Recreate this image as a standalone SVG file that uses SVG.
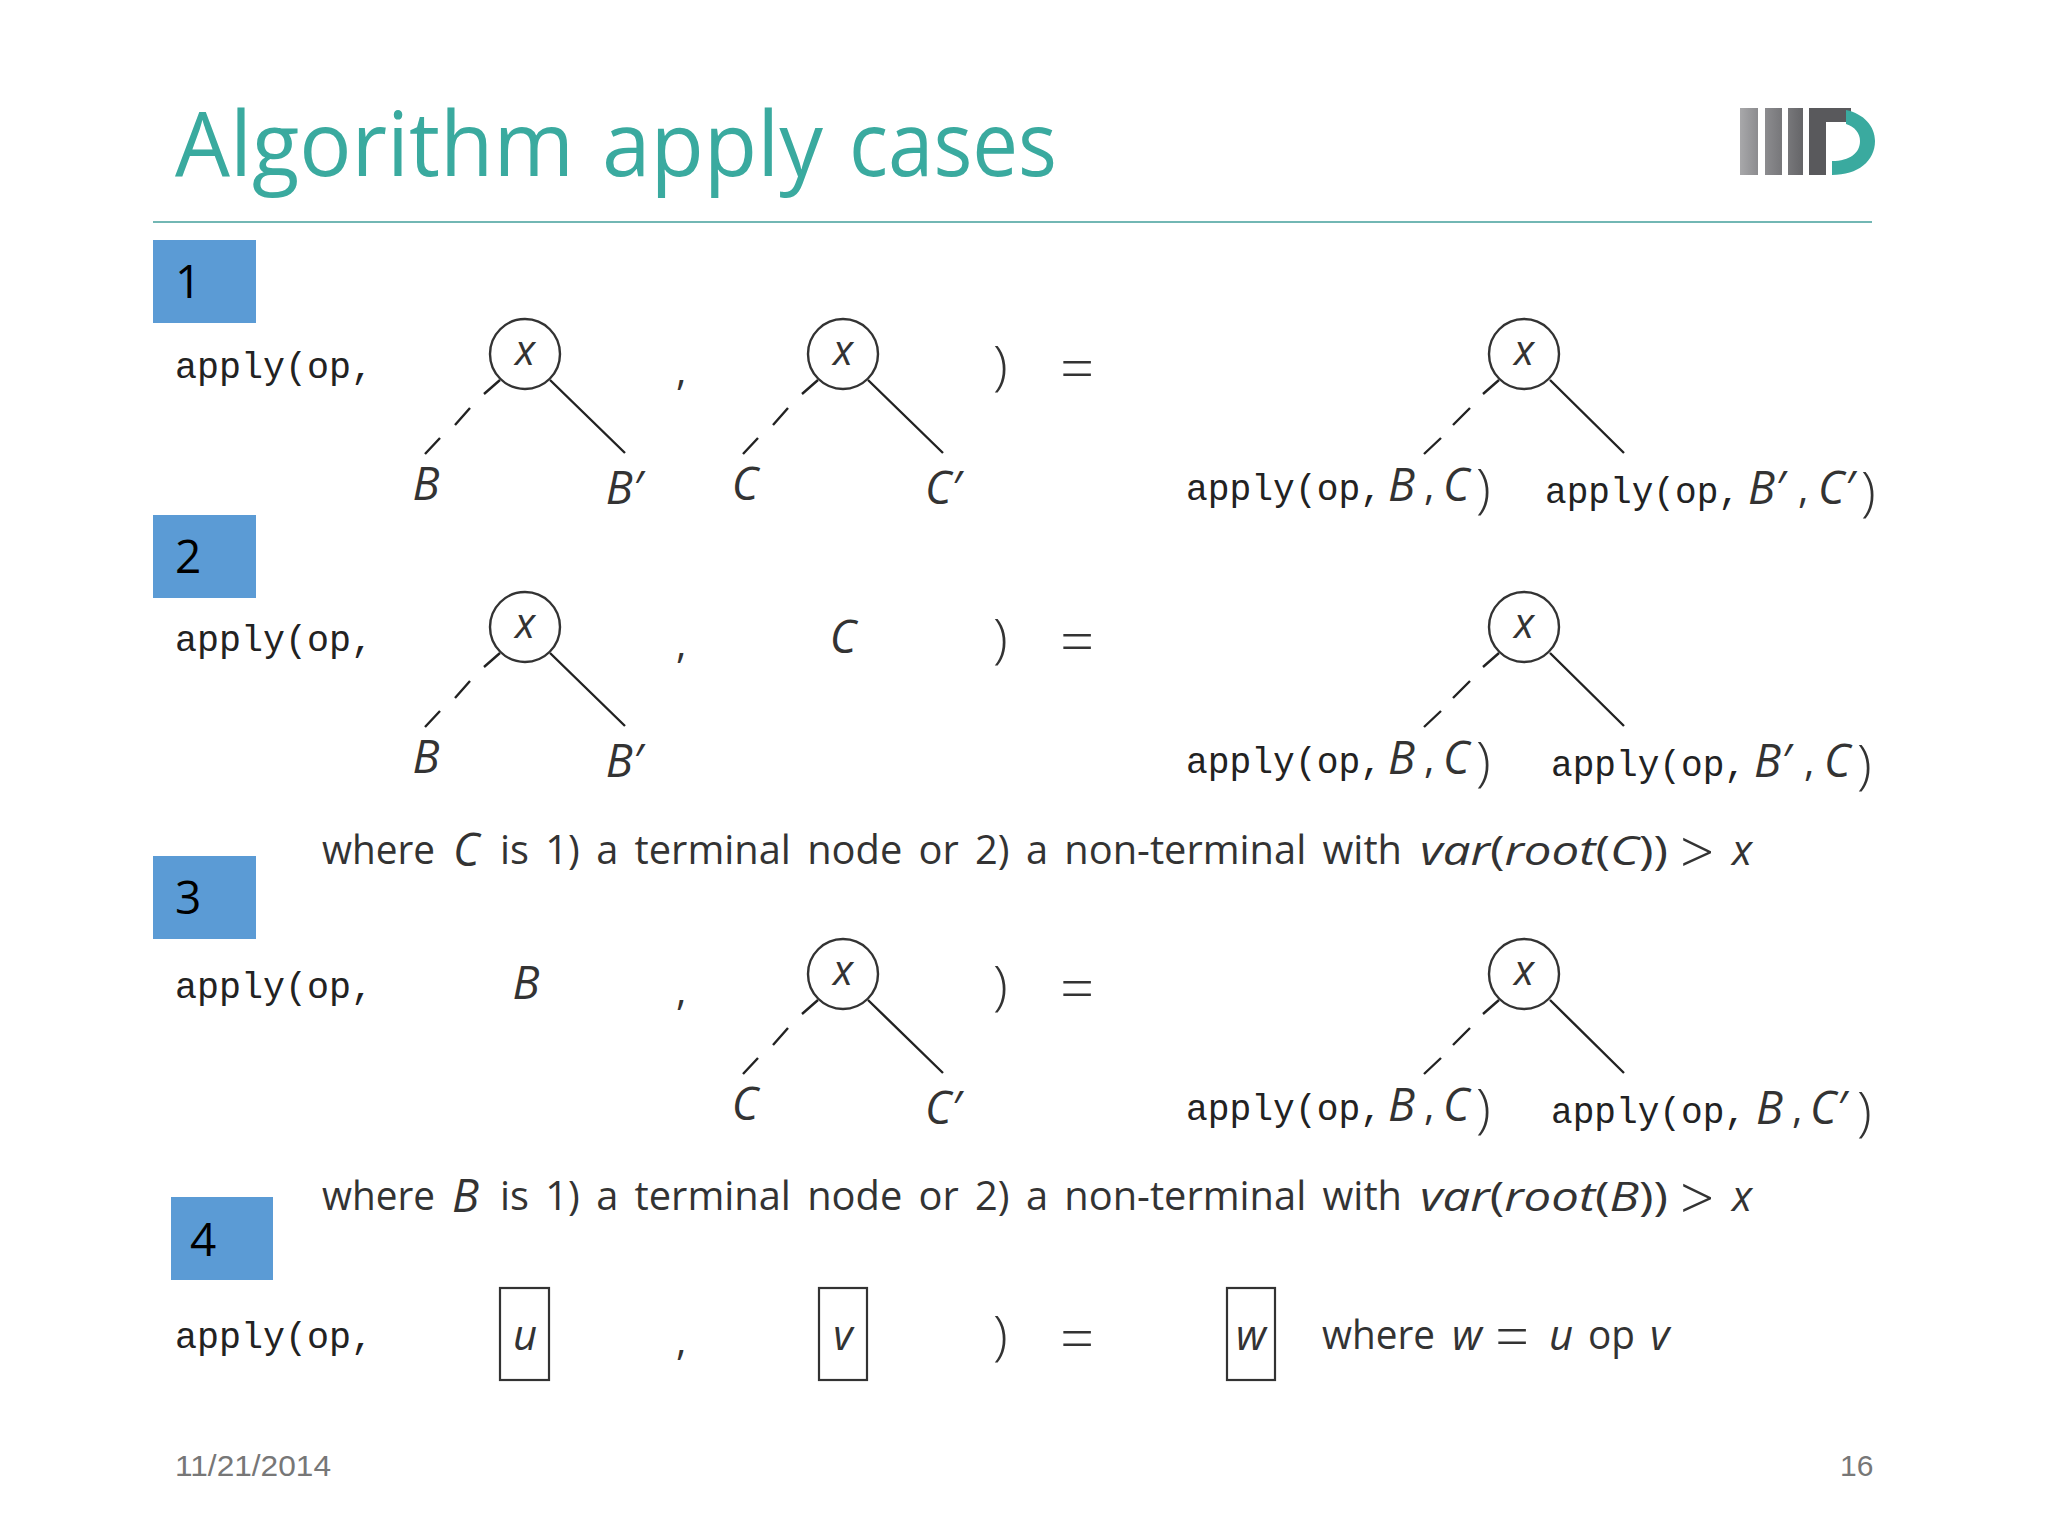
<svg xmlns="http://www.w3.org/2000/svg" width="2048" height="1536" viewBox="0 0 2048 1536">
<style>
text{font-family:"Open Sans","Noto Sans",sans-serif;fill:#222}
.m{font-family:"Liberation Mono",monospace;font-size:36px;fill:#222}
.i{font-style:italic;font-size:45px;fill:#333}
.x{font-style:italic;font-size:42px;fill:#333}
.s{font-size:40px;fill:#333}
.w{font-size:40px;fill:#333;word-spacing:6px}
.v{font-size:41px;fill:#333}
.v tspan{font-style:italic}
.q{font-size:60px;font-weight:300;fill:#333}
.p{font-size:54px;font-weight:300;fill:#333}
.n{font-size:46px;fill:#000}
.b{fill:#5b9bd5}
.c{fill:#fff;stroke:#333;stroke-width:2.4}
.box{fill:none;stroke:#333;stroke-width:2.2}
.e{stroke:#222;stroke-width:2.4;fill:none}
.f{font-family:"Liberation Sans",sans-serif;font-size:30px;fill:#777}
</style>
<defs>
<linearGradient id="g1" x1="0" x2="1" y1="0" y2="0"><stop offset="0" stop-color="#a8a8aa"/><stop offset="1" stop-color="#8c8c8f"/></linearGradient>
<linearGradient id="g2" x1="0" x2="1" y1="0" y2="0"><stop offset="0" stop-color="#8c8c8f"/><stop offset="1" stop-color="#77777a"/></linearGradient>
<linearGradient id="g3" x1="0" x2="1" y1="0" y2="0"><stop offset="0" stop-color="#77777a"/><stop offset="1" stop-color="#656568"/></linearGradient>
</defs>
<rect width="2048" height="1536" fill="#fff"/>
<g id="header">
<text y="176" font-size="89" style="fill:#3aaa9f"><tspan x="175" textLength="399" lengthAdjust="spacingAndGlyphs">Algorithm</tspan> <tspan x="602" textLength="221" lengthAdjust="spacingAndGlyphs">apply</tspan> <tspan x="849" textLength="208" lengthAdjust="spacingAndGlyphs">cases</tspan></text>
<line x1="153" y1="222" x2="1872" y2="222" stroke="#72b7b4" stroke-width="2"/>
<g id="logo">
<rect x="1740" y="108" width="18" height="67" fill="url(#g1)"/>
<rect x="1765" y="108" width="17" height="67" fill="url(#g2)"/>
<rect x="1788" y="108" width="15" height="67" fill="url(#g3)"/>
<path d="M1809 108H1851V122H1826V175H1809Z" fill="#59595c"/>
<path d="M1846 110C1864 114 1875 126 1875 141C1875 161 1858 175 1832 175V161C1850 161 1860 153 1860 141C1860 133 1855 127 1846 124Z" fill="#3aaa9f"/>
</g>
</g>
<g id="connectors">
<g id="conn-r1">
<path class="e" d="M500 380L484 394M470 408L455 425M440 438L425 454M550 380L625 453"/>
<path class="e" d="M818 380L802 394M788 408L773 425M758 438L743 454M868 380L943 453"/>
<path class="e" d="M1499 380L1483 394M1470 408L1453 425M1441 438L1424 454M1550 380L1624 453"/>
</g>
<g id="conn-r2">
<path class="e" d="M500 653L484 667M470 681L455 698M440 711L425 727M550 653L625 726"/>
<path class="e" d="M1499 653L1483 667M1470 681L1453 698M1441 711L1424 727M1550 653L1624 726"/>
</g>
<g id="conn-r3">
<path class="e" d="M818 1000L802 1014M788 1028L773 1045M758 1058L743 1074M868 1000L943 1073"/>
<path class="e" d="M1499 1000L1483 1014M1470 1028L1453 1045M1441 1058L1424 1074M1550 1000L1624 1073"/>
</g>
</g>
<g id="case-1">
<rect class="b" x="153" y="240" width="103" height="83"/><text class="n" x="175" y="298">1</text>
<text class="m" x="175" y="378" textLength="198" lengthAdjust="spacingAndGlyphs">apply(op,</text>
<g id="r1-a"><circle class="c" cx="525" cy="354" r="35"/><text class="x" x="525" y="365" text-anchor="middle">x</text></g>
<text class="i" x="426" y="500" text-anchor="middle">B</text>
<text class="i" x="624" y="504" text-anchor="middle">B′</text>
<text class="s" x="676" y="385">,</text>
<g id="r1-b"><circle class="c" cx="843" cy="354" r="35"/><text class="x" x="843" y="365" text-anchor="middle">x</text></g>
<text class="i" x="745" y="500" text-anchor="middle">C</text>
<text class="i" x="943" y="504" text-anchor="middle">C′</text>
<text class="p" x="993" y="384">)</text><text class="q" x="1060" y="390">=</text>
<g id="r1-c"><circle class="c" cx="1524" cy="354" r="35"/><text class="x" x="1524" y="365" text-anchor="middle">x</text></g>
<text class="m" x="1186" y="500" textLength="196" lengthAdjust="spacingAndGlyphs">apply(op,</text>
<text class="i" x="1388" y="501">B</text><text class="s" x="1424" y="500">,</text><text class="i" x="1443" y="501">C</text><text class="p" x="1476" y="507">)</text>
<text class="m" x="1545" y="503" textLength="195" lengthAdjust="spacingAndGlyphs">apply(op,</text>
<text class="i" x="1748" y="504">B′</text><text class="s" x="1798" y="503">,</text><text class="i" x="1818" y="504">C′</text><text class="p" x="1861" y="510">)</text>
</g>
<g id="case-2">
<rect class="b" x="153" y="515" width="103" height="83"/><text class="n" x="175" y="573">2</text>
<text class="m" x="175" y="651" textLength="198" lengthAdjust="spacingAndGlyphs">apply(op,</text>
<g id="r2-a"><circle class="c" cx="525" cy="627" r="35"/><text class="x" x="525" y="638" text-anchor="middle">x</text></g>
<text class="i" x="426" y="773" text-anchor="middle">B</text>
<text class="i" x="624" y="777" text-anchor="middle">B′</text>
<text class="s" x="676" y="658">,</text>
<text class="i" x="843" y="653" text-anchor="middle">C</text>
<text class="p" x="993" y="657">)</text><text class="q" x="1060" y="663">=</text>
<g id="r2-c"><circle class="c" cx="1524" cy="627" r="35"/><text class="x" x="1524" y="638" text-anchor="middle">x</text></g>
<text class="m" x="1186" y="773" textLength="196" lengthAdjust="spacingAndGlyphs">apply(op,</text>
<text class="i" x="1388" y="774">B</text><text class="s" x="1424" y="773">,</text><text class="i" x="1443" y="774">C</text><text class="p" x="1476" y="780">)</text>
<text class="m" x="1551" y="776" textLength="195" lengthAdjust="spacingAndGlyphs">apply(op,</text>
<text class="i" x="1754" y="777">B′</text><text class="s" x="1804" y="776">,</text><text class="i" x="1824" y="777">C</text><text class="p" x="1857" y="783">)</text>
<text class="w" x="322" y="864" textLength="113" lengthAdjust="spacingAndGlyphs">where</text>
<text class="i" x="453" y="866">C</text>
<text class="w" x="500" y="864" textLength="902" lengthAdjust="spacingAndGlyphs">is 1) a terminal node or 2) a non-terminal with</text>
<text class="v" x="1420" y="865" textLength="248" lengthAdjust="spacingAndGlyphs"><tspan>var</tspan>(<tspan>root</tspan>(<tspan>C</tspan>))</text>
<text class="q" x="1680" y="874">&gt;</text><text class="x" x="1732" y="865">x</text>
</g>
<g id="case-3">
<rect class="b" x="153" y="856" width="103" height="83"/><text class="n" x="175" y="914">3</text>
<text class="m" x="175" y="998" textLength="198" lengthAdjust="spacingAndGlyphs">apply(op,</text>
<text class="i" x="526" y="999" text-anchor="middle">B</text>
<text class="s" x="676" y="1005">,</text>
<g id="r3-b"><circle class="c" cx="843" cy="974" r="35"/><text class="x" x="843" y="985" text-anchor="middle">x</text></g>
<text class="i" x="745" y="1120" text-anchor="middle">C</text>
<text class="i" x="943" y="1124" text-anchor="middle">C′</text>
<text class="p" x="993" y="1004">)</text><text class="q" x="1060" y="1010">=</text>
<g id="r3-c"><circle class="c" cx="1524" cy="974" r="35"/><text class="x" x="1524" y="985" text-anchor="middle">x</text></g>
<text class="m" x="1186" y="1120" textLength="196" lengthAdjust="spacingAndGlyphs">apply(op,</text>
<text class="i" x="1388" y="1121">B</text><text class="s" x="1424" y="1120">,</text><text class="i" x="1443" y="1121">C</text><text class="p" x="1476" y="1127">)</text>
<text class="m" x="1551" y="1123" textLength="195" lengthAdjust="spacingAndGlyphs">apply(op,</text>
<text class="i" x="1756" y="1124">B</text><text class="s" x="1792" y="1123">,</text><text class="i" x="1810" y="1124">C′</text><text class="p" x="1857" y="1130">)</text>
<text class="w" x="322" y="1210" textLength="113" lengthAdjust="spacingAndGlyphs">where</text>
<text class="i" x="452" y="1212">B</text>
<text class="w" x="500" y="1210" textLength="902" lengthAdjust="spacingAndGlyphs">is 1) a terminal node or 2) a non-terminal with</text>
<text class="v" x="1420" y="1211" textLength="248" lengthAdjust="spacingAndGlyphs"><tspan>var</tspan>(<tspan>root</tspan>(<tspan>B</tspan>))</text>
<text class="q" x="1680" y="1220">&gt;</text><text class="x" x="1732" y="1211">x</text>
</g>
<g id="case-4">
<rect class="b" x="171" y="1197" width="102" height="83"/><text class="n" x="190" y="1256">4</text>
<text class="m" x="175" y="1348" textLength="198" lengthAdjust="spacingAndGlyphs">apply(op,</text>
<g id="r4-u"><rect class="box" x="500" y="1288" width="49" height="92"/><text class="x" x="525" y="1350" text-anchor="middle">u</text></g>
<text class="s" x="676" y="1355">,</text>
<g id="r4-v"><rect class="box" x="819" y="1288" width="48" height="92"/><text class="x" x="843" y="1350" text-anchor="middle">v</text></g>
<text class="p" x="993" y="1354">)</text><text class="q" x="1060" y="1360">=</text>
<g id="r4-w"><rect class="box" x="1227" y="1288" width="48" height="92"/><text class="x" x="1251" y="1350" text-anchor="middle">w</text></g>
<text class="w" x="1322" y="1349" textLength="113" lengthAdjust="spacingAndGlyphs">where</text>
<text class="x" x="1452" y="1350">w</text><text class="q" x="1495" y="1358">=</text><text class="x" x="1549" y="1350">u</text>
<text class="w" x="1588" y="1349" textLength="47" lengthAdjust="spacingAndGlyphs">op</text><text class="x" x="1650" y="1350">v</text>
</g>
<g id="footer">
<text class="f" x="175" y="1476" textLength="156" lengthAdjust="spacingAndGlyphs">11/21/2014</text>
<text class="f" x="1840" y="1476">16</text>
</g>
</svg>
